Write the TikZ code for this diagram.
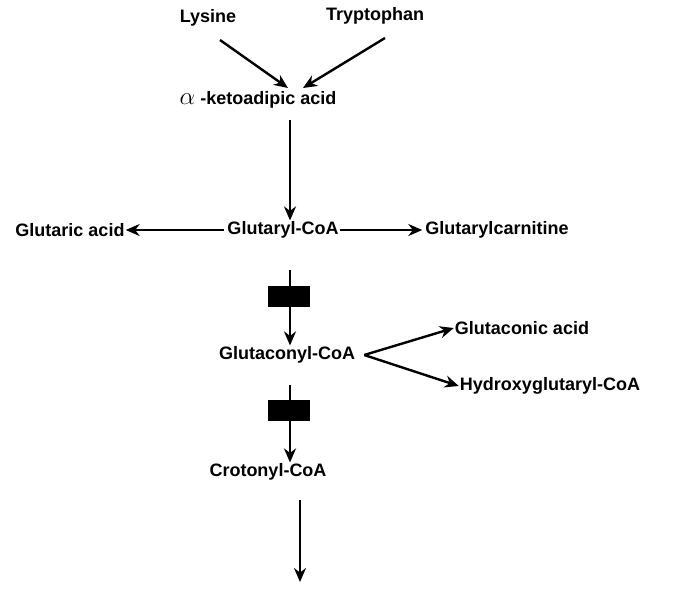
\documentclass[tikz,border=0pt]{standalone}
\usepackage{fontspec}
\setmainfont{Liberation Sans}
\usetikzlibrary{arrows.meta}
\begin{document}
\begin{tikzpicture}[x=1pt,y=-1pt,
  lbl/.style={font=\fontsize{18}{20}\selectfont\bfseries, inner sep=1pt},
  arr/.style={line width=2.4pt,-{Stealth[length=14pt,width=12pt]}},
  blk/.style={fill=black, minimum width=42pt, minimum height=21pt, inner sep=0pt}]
\useasboundingbox (0,0) rectangle (673,590);
\node[lbl] (lys) at (208,18) {Lysine};
\node[lbl] (trp) at (375,16) {Tryptophan};
\node[lbl] (kad) at (258,100) {{\fontsize{26}{26}\selectfont$\alpha$}\ -ketoadipic acid};
\node[lbl] (gcoa) at (283,230) {Glutaryl-CoA};
\node[lbl] (gacid) at (70,230) {Glutaric acid};
\node[lbl] (gcarn) at (497,230) {Glutarylcarnitine};
\node[lbl] (gtcoa) at (287,355) {Glutaconyl-CoA};
\node[lbl] (gtacid) at (522,328) {Glutaconic acid};
\node[lbl] (hgcoa) at (550,386) {Hydroxyglutaryl-CoA};
\node[lbl] (ccoa) at (268,472) {Crotonyl-CoA};
\node[blk] (b1) at (289,296) {};
\node[blk] (b2) at (289,410) {};
\coordinate (lysA) at (220,40);
\coordinate (trpA) at (385,38);
\coordinate (kadIn) at (288,88);
\coordinate (kadIn2) at (303,88);
\coordinate (end) at (300,582);
\draw[arr] (lysA) -- (kadIn);
\draw[arr] (trpA) -- (kadIn2);
\draw[arr] (290,120) -- (gcoa.north -| 290,0);
\draw[arr,shorten <=2pt] (gcoa.west) -- (gacid.east);
\draw[arr,shorten >=2pt] (gcoa.east) -- (gcarn.west);
\draw[arr] (290,270) -- (gtcoa.north -| 290,0);
\path (gtcoa.east) ++(8,0) coordinate (br);
\draw[arr] (br) -- (gtacid.west);
\draw[arr] (br) -- (hgcoa.west);
\draw[arr] (290,385) -- (ccoa.north -| 290,0);
\draw[arr] (300,500) -- (end);
\end{tikzpicture}
\end{document}
